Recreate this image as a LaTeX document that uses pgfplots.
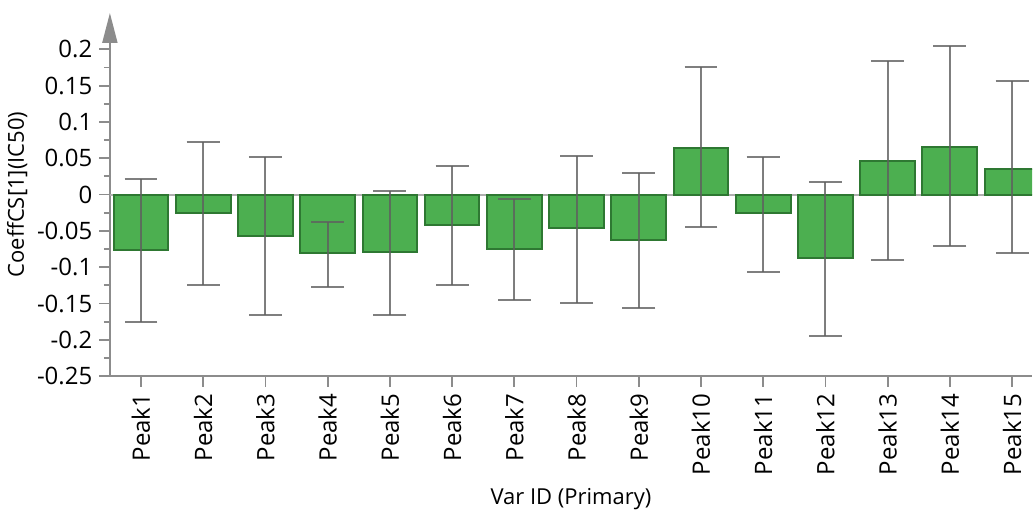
\documentclass[border=0pt]{standalone}
\usepackage{fontspec}
\setmainfont{Open Sans}
\usepackage{pgfplots}
\usepackage{pgfplotstable}
\pgfplotsset{compat=1.18}
\usetikzlibrary{arrows.meta}
\definecolor{barfill}{RGB}{76,175,80}
\definecolor{baredge}{RGB}{46,120,50}
\definecolor{axgray}{RGB}{140,140,140}
\definecolor{errgray}{RGB}{95,95,95}
\definecolor{zerogray}{RGB}{175,175,175}
\pgfplotstableread{
x y ep em
1 -0.076 0.097 0.100
2 -0.025 0.097 0.099
3 -0.057 0.109 0.109
4 -0.081 0.043 0.046
5 -0.079 0.084 0.087
6 -0.042 0.082 0.083
7 -0.0745 0.068 0.0705
8 -0.046 0.099 0.103
9 -0.062 0.092 0.094
10 0.064 0.112 0.108
11 -0.025 0.077 0.081
12 -0.087 0.1045 0.108
13 0.046 0.138 0.136
14 0.065 0.140 0.136
15 0.035 0.121 0.116
}\datatable
\begin{document}
\begin{tikzpicture}
\begin{axis}[
 scale only axis, width=461.5pt, height=181.75pt,
 xmin=0.5, xmax=15.32, ymin=-0.25, ymax=0.25,
 axis lines=left,
 x axis line style={-, draw=axgray, line width=1pt},
 y axis line style={-{Triangle[length=15pt,width=7.5pt]}, draw=axgray, fill=axgray, line width=1pt},
 tick align=outside,
 major tick length=5.3pt, minor tick length=3pt,
 every tick/.style={draw=axgray, line width=0.9pt},
 ytick={-0.25,-0.2,-0.15,-0.1,-0.05,0,0.05,0.1,0.15,0.2},
 yticklabels={-0.25,-0.2,-0.15,-0.1,-0.05,0,0.05,0.1,0.15,0.2},
 minor ytick={-0.225,-0.175,-0.125,-0.075,-0.025,0.025,0.075,0.125,0.175},
 xtick={1,...,15},
 xticklabels={Peak1,Peak2,Peak3,Peak4,Peak5,Peak6,Peak7,Peak8,Peak9,Peak10,Peak11,Peak12,Peak13,Peak14,Peak15},
 xticklabel style={rotate=90, anchor=east},
 tick label style={font=\fontsize{12}{14}\selectfont},
 label style={font=\fontsize{11}{13}\selectfont},
 xlabel={Var ID (Primary)},
 ylabel={CoeffCS[1](IC50)},
 ylabel style={yshift=-2pt},
 clip=true,
]
\draw[zerogray, line width=1pt] (axis cs:0.5,0) -- (axis cs:15.32,0);
\addplot[ybar, bar width=0.88, fill=barfill, draw=baredge, line width=1pt,
  error bars/.cd, y dir=both, y explicit,
  error bar style={errgray, line width=1pt, opacity=0.8},
  error mark options={rotate=90, errgray, mark size=8.25pt, line width=1pt, opacity=0.8}]
  table[x=x, y=y, y error plus=ep, y error minus=em]{\datatable};
\coordinate (O) at (rel axis cs:0,0);
\end{axis}
\path (O) ++(-55pt,-66.25pt) rectangle ++(516.5pt,254.5pt);
\end{tikzpicture}
\end{document}
